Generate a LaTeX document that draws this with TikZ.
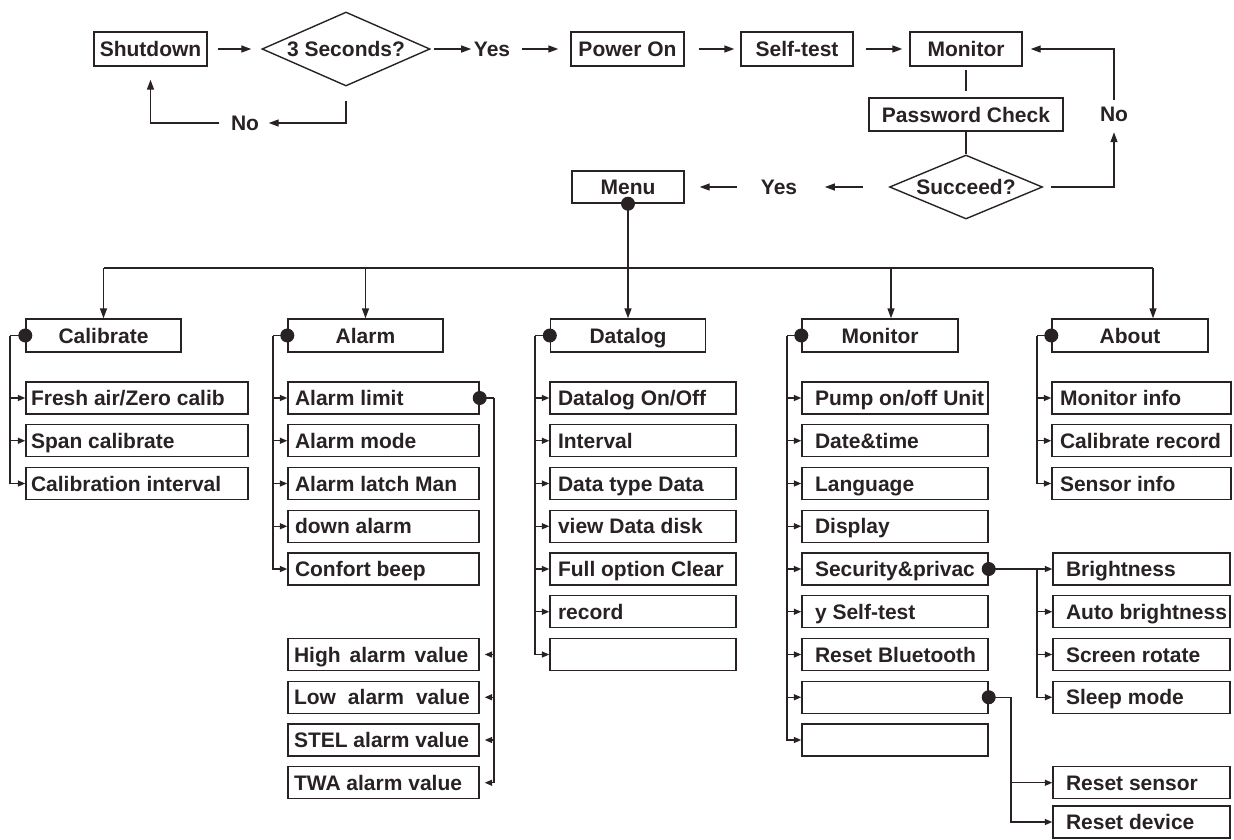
\documentclass[tikz,border=0pt]{standalone}
\usepackage{fontspec}
\setmainfont{Liberation Sans}
\usetikzlibrary{arrows.meta,shapes.geometric}
\definecolor{ink}{RGB}{40,34,35}
\begin{document}
\begin{tikzpicture}[x=1pt,y=-1pt,line width=1.4pt,draw=ink,
  tx/.style={font=\fontsize{21}{25}\selectfont\bfseries,text=ink,text height=15pt,text depth=0pt},
  box/.style={tx,draw=ink,line width=1.4pt,inner sep=0pt,minimum height=#1},
  box/.default=33pt,
  dia/.style={tx,diamond,draw=ink,line width=1.4pt,inner sep=0pt},
  lbl/.style={tx,inner sep=0pt},
  item/.style n args={3}{draw=ink,line width=1.4pt,inner sep=0pt,minimum height=32pt,minimum width=#1,
     label={[tx,anchor=west,inner sep=0pt,xshift=#2]west:#3}},
  dot/.style={circle,fill=ink,draw=none,inner sep=0pt,minimum size=14pt},
  barr/.style={draw=ink,-{Triangle[length=10pt,width=7pt]}},
  sarr/.style={draw=ink,-{Triangle[length=7.5pt,width=6pt]}},
  ln/.style={draw=ink}]
\useasboundingbox (0,0) rectangle (1234,839);

% ---------- top flow ----------
\node[box=34pt,minimum width=113pt] (shut) at (150.5,49) {Shutdown};
\node[dia,aspect=2.27,minimum width=168pt,minimum height=74pt] (d3) at (346,49) {3 Seconds?};
\node[lbl] (yes1) at (492,49) {Yes};
\node[box=34pt,minimum width=113pt] (pow) at (627.5,49) {Power On};
\node[box=34pt,minimum width=112pt] (self) at (797,49) {Self-test};
\node[box=34pt,minimum width=112pt] (mon) at (966,49) {Monitor};
\node[lbl] (no1) at (245,123) {No};
\node[box=33pt,minimum width=194pt] (pw) at (966,114.5) {Password Check};
\node[dia,aspect=2.39,minimum width=153pt,minimum height=64pt] (succ) at (966,187) {Succeed?};
\node[lbl] (no2) at (1114,114) {No};
\node[lbl] (yes2) at (779,187) {Yes};
\node[box=32pt,minimum width=112pt] (menu) at (628,187) {Menu};

\draw[barr,shorten <=10pt,shorten >=10pt] (shut) -- (d3);
\draw[barr,shorten <=3pt,shorten >=2pt] (d3) -- (yes1);
\draw[barr,shorten <=11pt,shorten >=12pt] (yes1) -- (pow);
\draw[barr,shorten <=14pt,shorten >=6pt] (pow) -- (self);
\draw[barr,shorten <=12pt,shorten >=7pt] (self) -- (mon);
\draw[barr,shorten <=14pt,shorten >=9pt] (d3.south) |- (no1.east);
\draw[barr,shorten <=11pt,shorten >=13pt] (no1.west) -| (shut.south);
\draw[ln,shorten <=3pt,shorten >=6pt] (mon.south) -- (pw.north);
\draw[ln] (pw.south) -- (succ.north);
\draw[barr,shorten <=8pt,shorten >=10pt] (succ.east) -| (no2.south);
\draw[barr,shorten <=6pt,shorten >=8pt] (no2.north) |- (mon.east);
\draw[barr,shorten <=26pt,shorten >=27pt] (succ.west) -- (yes2.east);
\draw[barr,shorten <=23pt,shorten >=15pt] (yes2.west) -- (menu.east);

% ---------- headers ----------
\node[box=33pt,minimum width=155pt] (calh) at (103.5,335.5) {Calibrate};
\node[box=33pt,minimum width=155pt] (alh) at (365.5,335.5) {Alarm};
\node[box=33pt,minimum width=155pt] (dath) at (628,335.5) {Datalog};
\node[box=33pt,minimum width=156pt] (monh) at (880,335.5) {Monitor};
\node[box=33pt,minimum width=156pt] (abh) at (1130,335.5) {About};

\coordinate (bl) at (103.5,268);
\coordinate (balm) at (365.5,268);
\coordinate (bmon) at (891,268);
\coordinate (br) at (1153,268);
\draw[ln] (bl) -- (br);
\draw[barr] (bl) -- (calh.north);
\draw[barr] (balm) -- (alh.north);
\draw[barr] (bmon) -- (bmon |- monh.north);
\draw[barr] (br) -- (br |- abh.north);
\node[dot] (mdot) at (menu.south) {};
\draw[barr] (mdot.center) -- (dath.north);

% ---------- Calibrate ----------
\node[item={222pt}{5pt}{Fresh air/Zero calib}] (cal1) at (137,398) {};
\node[item={222pt}{5pt}{Span calibrate}] (cal2) at (137,440.75) {};
\node[item={222pt}{5pt}{Calibration interval}] (cal3) at (137,483.5) {};
\coordinate (cb) at (10,335.5);
\draw[ln] (calh.west) -- (cb);
\foreach \n in {cal1,cal2,cal3} \draw[sarr] (cb) |- (\n.west);
\node[dot] (cd) at (calh.west) {};

% ---------- Alarm ----------
\node[item={191pt}{7pt}{Alarm limit}] (al1) at (383.5,398) {};
\node[item={191pt}{7pt}{Alarm mode}] (al2) at (383.5,440.75) {};
\node[item={191pt}{7pt}{Alarm latch Man}] (al3) at (383.5,483.5) {};
\node[item={191pt}{7pt}{down alarm}] (al4) at (383.5,526.25) {};
\node[item={191pt}{7pt}{Confort beep}] (al5) at (383.5,569) {};
\node[item={191pt}{6pt}{High\hspace{9pt}alarm\hspace{9pt}value}] (hi) at (383.5,654.5) {};
\node[item={191pt}{6pt}{Low\hspace{12pt}alarm\hspace{12pt}value}] (lo) at (383.5,697.25) {};
\node[item={191pt}{6pt}{STEL alarm value}] (st) at (383.5,740) {};
\node[item={191pt}{6pt}{TWA alarm value}] (tw) at (383.5,782.75) {};
\coordinate (alB) at (273,335.5);
\draw[ln] (alh.west) -- (alB);
\foreach \n in {al1,al2,al3,al4,al5} \draw[sarr] (alB) |- (\n.west);
\node[dot] (ad) at (alh.west) {};
\coordinate (alR) at (494,398);
\draw[ln] (al1.east) -- (alR);
\foreach \n in {hi,lo,st,tw} \draw[sarr,shorten >=5pt] (alR) |- (\n.east);
\node[dot] (ald) at (al1.east) {};

% ---------- Datalog ----------
\node[item={186pt}{8pt}{Datalog On/Off}] (da1) at (643,398) {};
\node[item={186pt}{8pt}{Interval}] (da2) at (643,440.75) {};
\node[item={186pt}{8pt}{Data type Data}] (da3) at (643,483.5) {};
\node[item={186pt}{8pt}{view Data disk}] (da4) at (643,526.25) {};
\node[item={186pt}{8pt}{Full option Clear}] (da5) at (643,569) {};
\node[item={186pt}{8pt}{record}] (da6) at (643,611.75) {};
\node[item={186pt}{8pt}{}] (da7) at (643,654.5) {};
\coordinate (db) at (535,335.5);
\draw[ln] (dath.west) -- (db);
\foreach \n in {da1,da2,da3,da4,da5,da6,da7} \draw[sarr] (db) |- (\n.west);
\node[dot] (dd) at (dath.west) {};

% ---------- Monitor ----------
\node[item={186pt}{13pt}{Pump on/off Unit}] (mo1) at (895,398) {};
\node[item={186pt}{13pt}{Date\&time}] (mo2) at (895,440.75) {};
\node[item={186pt}{13pt}{Language}] (mo3) at (895,483.5) {};
\node[item={186pt}{13pt}{Display}] (mo4) at (895,526.25) {};
\node[item={186pt}{13pt}{Security\&privac}] (mo5) at (895,569) {};
\node[item={186pt}{13pt}{y Self-test}] (mo6) at (895,611.75) {};
\node[item={186pt}{13pt}{Reset Bluetooth}] (mo7) at (895,654.5) {};
\node[item={186pt}{13pt}{}] (mo8) at (895,697.25) {};
\node[item={186pt}{13pt}{}] (mo9) at (895,740) {};
\coordinate (mb) at (787,335.5);
\draw[ln] (monh.west) -- (mb);
\foreach \n in {mo1,mo2,mo3,mo4,mo5,mo6,mo7,mo8,mo9} \draw[sarr] (mb) |- (\n.west);
\node[dot] (md) at (monh.west) {};

\node[item={177pt}{13pt}{Brightness}] (br1) at (1141.5,569) {};
\node[item={177pt}{13pt}{Auto brightness}] (br2) at (1141.5,611.75) {};
\node[item={177pt}{13pt}{Screen rotate}] (br3) at (1141.5,654.5) {};
\node[item={177pt}{13pt}{Sleep mode}] (br4) at (1141.5,697.25) {};
\coordinate (sb) at (1037,569);
\draw[ln] (mo5.east) -- (sb);
\foreach \n in {br1,br2,br3,br4} \draw[sarr] (sb) |- (\n.west);
\node[dot] (sd) at (mo5.east) {};

\node[item={177pt}{13pt}{Reset sensor}] (rs1) at (1141.5,782.75) {};
\node[item={177pt}{13pt}{Reset device}] (rs2) at (1141.5,822) {};
\coordinate (eb) at (1011,697.25);
\draw[ln] (mo8.east) -- (eb);
\foreach \n in {rs1,rs2} \draw[sarr] (eb) |- (\n.west);
\node[dot] (ed) at (mo8.east) {};

% ---------- About ----------
\node[item={179pt}{8pt}{Monitor info}] (abt1) at (1141.5,398) {};
\node[item={179pt}{8pt}{Calibrate record}] (abt2) at (1141.5,440.75) {};
\node[item={179pt}{8pt}{Sensor info}] (abt3) at (1141.5,483.5) {};
\coordinate (abb) at (1037,335.5);
\draw[ln] (abh.west) -- (abb);
\foreach \n in {abt1,abt2,abt3} \draw[sarr] (abb) |- (\n.west);
\node[dot] (abd) at (abh.west) {};
\end{tikzpicture}
\end{document}
